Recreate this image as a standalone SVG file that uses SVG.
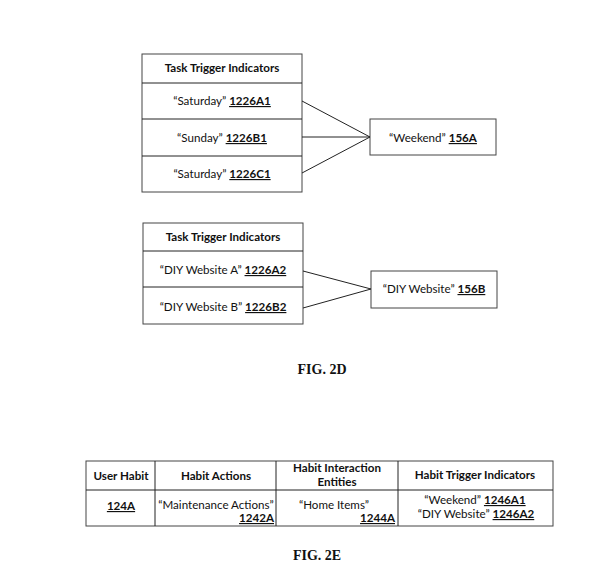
<svg xmlns="http://www.w3.org/2000/svg" width="609" height="573" viewBox="0 0 609 573">
<style>
.box{fill:#fff;stroke:#444;stroke-width:1}
.ln{stroke:#222;stroke-width:1;fill:none}
text{font-family:Lato,"Liberation Sans",sans-serif;font-size:11.6px;fill:#111}
.c{text-anchor:middle}
.r{text-anchor:end}
.b{font-weight:bold}
.u{font-weight:bold;text-decoration:underline}
.fig{font-family:"Liberation Serif",serif;font-weight:bold;font-size:14px;text-anchor:middle}
</style>
<rect width="609" height="573" fill="#fff"/>
<g id="table1">
<rect class="box" x="142" y="54" width="160" height="138"/>
<line class="ln" x1="142" y1="83" x2="302" y2="83" stroke="#444"/>
<line class="ln" x1="142" y1="119" x2="302" y2="119"/>
<line class="ln" x1="142" y1="156" x2="302" y2="156"/>
<text class="c b" x="222" y="72">Task Trigger Indicators</text>
<text class="c" x="222" y="105">“Saturday” <tspan class="u">1226A1</tspan></text>
<text class="c" x="222" y="142">“Sunday” <tspan class="u">1226B1</tspan></text>
<text class="c" x="222" y="178">“Saturday” <tspan class="u">1226C1</tspan></text>
</g>
<g id="weekend">
<rect class="box" x="370" y="119" width="126" height="36"/>
<text class="c" x="433" y="142">“Weekend” <tspan class="u">156A</tspan></text>
</g>
<g id="table2">
<rect class="box" x="143" y="223" width="160" height="101"/>
<line class="ln" x1="143" y1="251" x2="303" y2="251"/>
<line class="ln" x1="143" y1="287" x2="303" y2="287"/>
<text class="c b" x="223" y="241">Task Trigger Indicators</text>
<text class="c" x="223" y="274">“DIY Website A” <tspan class="u">1226A2</tspan></text>
<text class="c" x="223" y="311">“DIY Website B” <tspan class="u">1226B2</tspan></text>
</g>
<g id="diy">
<rect class="box" x="371" y="271" width="126" height="37"/>
<text class="c" x="434" y="293">“DIY Website” <tspan class="u">156B</tspan></text>
</g>
<g id="connectors">
<line class="ln" x1="302" y1="101" x2="370" y2="137"/>
<line class="ln" x1="302" y1="137" x2="370" y2="137"/>
<line class="ln" x1="302" y1="173" x2="370" y2="137"/>
<line class="ln" x1="303" y1="271" x2="371" y2="289"/>
<line class="ln" x1="303" y1="308" x2="371" y2="289"/>
</g>
<text class="fig" x="322" y="374">FIG. 2D</text>
<g id="table3">
<rect class="box" x="86" y="461" width="467" height="65"/>
<line class="ln" x1="86" y1="490" x2="553" y2="490" stroke="#444"/>
<line class="ln" x1="155" y1="461" x2="155" y2="526" stroke="#444"/>
<line class="ln" x1="276" y1="461" x2="276" y2="526" stroke="#444"/>
<line class="ln" x1="398" y1="461" x2="398" y2="526" stroke="#444"/>
<text class="c b" x="121" y="480">User Habit</text>
<text class="c b" x="216" y="480">Habit Actions</text>
<text class="c b" x="337" y="472">Habit Interaction</text>
<text class="c b" x="337" y="486">Entities</text>
<text class="c b" x="475" y="479">Habit Trigger Indicators</text>
<text class="c u" x="121" y="510">124A</text>
<text class="c" x="216" y="509">“Maintenance Actions”</text>
<text class="r u" x="274" y="522">1242A</text>
<text class="c" x="334" y="509">“Home Items”</text>
<text class="r u" x="395" y="522">1244A</text>
<text class="c" x="475" y="504">“Weekend” <tspan class="u">1246A1</tspan></text>
<text class="c" x="476" y="518">“DIY Website” <tspan class="u">1246A2</tspan></text>
</g>
<text class="fig" x="317" y="560">FIG. 2E</text>
</svg>
